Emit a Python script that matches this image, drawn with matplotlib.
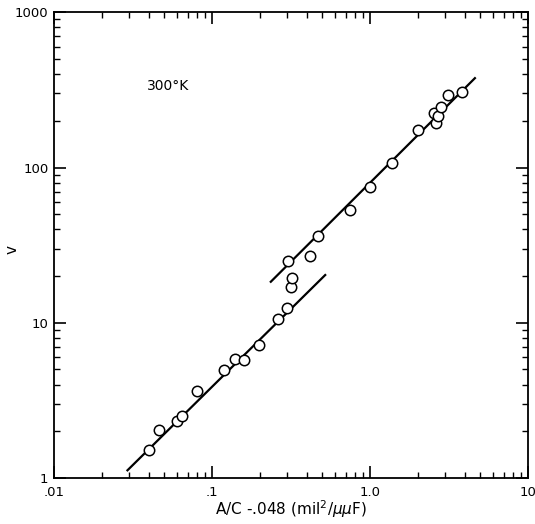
import matplotlib
matplotlib.use("Agg")
import matplotlib.pyplot as plt
from matplotlib.ticker import LogLocator, NullFormatter, FixedLocator, FixedFormatter

# Data
x_points = [0.0399, 0.0460, 0.0598, 0.0649, 0.0804, 0.1196, 0.1398, 0.1587, 0.1978,
            0.2628, 0.2971, 0.3177, 0.3224, 0.3014, 0.4172, 0.4667, 0.747, 0.9956,
            1.378, 2.004, 2.605, 2.553, 2.706, 2.815, 3.117, 3.821]
v_points = [1.52, 2.03, 2.33, 2.51, 3.63, 4.94, 5.88, 5.79, 7.16,
            10.58, 12.53, 17.0, 19.3, 25.0, 27.1, 36.3, 53.1, 75.1,
            106.3, 174.2, 194.2, 225.3, 214.5, 245.1, 291.6, 306.3]

lower_line_x = [0.02884, 0.5266]
lower_line_v = [1.108, 20.54]
upper_line_x = [0.2329, 4.667]
upper_line_v = [18.16, 381.0]

x_ticks = [0.01, 0.1, 1.0, 10]
x_ticklabels = [".01", ".1", "1.0", "10"]
y_ticks = [1, 10, 100, 1000]
y_ticklabels = ["1", "10", "100", "1000"]

fig = plt.figure(figsize=(5.35, 5.24), dpi=100)
ax = fig.add_axes([54/535, 1 - 478/524, 474/535, (478 - 12.3)/524])

ax.set_xscale("log")
ax.set_yscale("log")
ax.set_xlim(0.01, 10)
ax.set_ylim(1, 1000)

ax.plot(lower_line_x, lower_line_v, color="black", lw=1.6, solid_capstyle="butt")
ax.plot(upper_line_x, upper_line_v, color="black", lw=1.6, solid_capstyle="butt")
ax.plot(x_points, v_points, linestyle="none", marker="o", markersize=7.5,
        markerfacecolor="white", markeredgecolor="black", markeredgewidth=1.1, zorder=3)

ax.xaxis.set_major_locator(FixedLocator(x_ticks))
ax.xaxis.set_major_formatter(FixedFormatter(x_ticklabels))
ax.yaxis.set_major_locator(FixedLocator(y_ticks))
ax.yaxis.set_major_formatter(FixedFormatter(y_ticklabels))
ax.xaxis.set_minor_locator(LogLocator(base=10, subs=range(2, 10), numticks=20))
ax.yaxis.set_minor_locator(LogLocator(base=10, subs=range(2, 10), numticks=20))
ax.xaxis.set_minor_formatter(NullFormatter())
ax.yaxis.set_minor_formatter(NullFormatter())

ax.tick_params(which="both", direction="in", top=True, right=True, color="black")
ax.tick_params(which="major", length=8.5, width=1.2, labelsize=9.5)
ax.tick_params(axis="x", which="major", pad=5.5)
ax.tick_params(axis="y", which="major", pad=4)
ax.tick_params(which="minor", length=4, width=1.0)
for s in ax.spines.values():
    s.set_linewidth(1.3)

ax.text(0.2405, 0.841, "300°K", transform=ax.transAxes, ha="center", va="center",
        fontsize=10)

ax.set_xlabel("A/C -.048 (mil$^2$/$\\mu\\mu$F)", fontsize=11, labelpad=0)
ax.set_ylabel("v", fontsize=11, va="center", ha="center")
ax.yaxis.set_label_coords(-0.089, 0.491)

fig.savefig("out.png", dpi=100)
